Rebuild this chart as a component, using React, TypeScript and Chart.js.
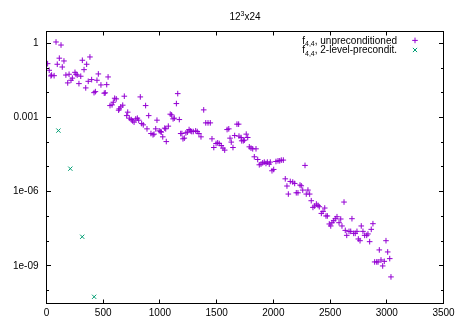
import React, { useEffect, useRef } from 'react';
import { Chart, registerables } from 'chart.js';

Chart.register(...registerables);

// f_{4,4}, unpreconditioned
const unpreX = [
  84, 128, 10, 24, 45, 67, 39, 113, 95, 154, 139, 171, 199, 187, 216, 228, 251, 260, 271, 286,
  302, 316, 331, 354, 383, 346, 368, 398, 419, 431, 445, 457, 480, 509, 518, 531, 543, 560, 578, 589,
  601, 615, 636, 641, 655, 672, 686, 707, 716, 730, 747, 759, 772, 787, 801, 813, 827, 839, 853, 874,
  886, 901, 921, 939, 948, 963, 974, 994, 1007, 1012, 1025, 1042, 1051, 1056, 1074, 1091, 1103, 1116, 1127, 1145,
  1157, 1171, 1183, 1194, 1203, 1215, 1229, 1242, 1257, 1268, 1280, 1294, 1315, 1329, 1344, 1362, 1386, 1404, 1424, 1444,
  1459, 1475, 1495, 1509, 1523, 1541, 1556, 1571, 1592, 1607, 1618, 1629, 1644, 1659, 1679, 1694, 1697, 1715, 1721, 1735,
  1744, 1761, 1774, 1788, 1803, 1818, 1847, 1832, 1862, 1876, 1891, 1906, 1920, 1935, 1947, 1964, 1973, 1988, 2003, 2023,
  2041, 2056, 2070, 2088, 2279, 2105, 2120, 2132, 2149, 2171, 2188, 2202, 2217, 2235, 2246, 2259, 2290, 2305, 2320, 2334,
  2349, 2364, 2379, 2394, 2405, 2423, 2438, 2453, 2464, 2476, 2493, 2506, 2517, 2532, 2546, 2561, 2579, 2594, 2605, 2623,
  2634, 2647, 2667, 2682, 2693, 2708, 2722, 2737, 2749, 2764, 2775, 2790, 2805, 2823, 2834, 2849, 2863, 2878, 2893, 2911,
  2923, 2934, 2949, 2964, 2978, 2993, 3008, 3026, 3037,
];
const unpreY = [
  1.13, 0.85, 0.15, 0.081, 0.052, 0.049, 0.048, 0.25, 0.142, 0.193, 0.11, 0.052, 0.056, 0.025, 0.032, 0.039, 0.067, 0.056, 0.052, 0.0234,
  0.0466, 0.206, 0.086, 0.142, 0.28, 0.0157, 0.029, 0.034, 0.0101, 0.0111, 0.032, 0.0577, 0.0207, 0.0096, 0.0099, 0.0213, 0.0436, 0.00303, 0.00323, 0.00415,
  0.006, 0.00564, 0.00197, 0.00223, 0.00268, 0.00314, 0.00725, 0.00119, 0.00164, 0.000938, 0.000824, 0.00073, 0.000647, 0.000879, 0.000938, 0.000778, 0.00679, 0.000568, 0.000503, 0.00303,
  0.000347, 0.00119, 0.000224, 0.000199, 0.000212, 0.000347, 0.000778, 0.000288, 0.00027, 0.000255, 0.000165, 0.00037, 0.000347, 0.000106, 0.000446, 0.00136, 0.00127, 0.000879, 0.000938, 0.00365,
  0.00923, 0.000824, 0.000224, 0.000224, 0.000137, 0.000146, 0.000239, 0.000255, 0.000325, 0.000288, 0.00027, 0.00027, 0.000288, 0.00027, 0.000224, 0.000165, 0.00203, 0.000605, 0.000605, 0.000605,
  0.000137, 6.1e-5, 8.85e-5, 9.4e-5, 8.85e-5, 7.35e-5, 5.77e-5, 4.79e-5, 0.000325, 0.000347, 0.000146, 0.000101, 6.1e-5, 0.000186, 0.000537, 0.000537, 0.000176, 0.000155, 0.000114, 0.000114,
  0.000121, 0.000212, 0.000155, 6.5e-5, 5.77e-5, 5.4e-5, 5.4e-5, 2.57e-5, 2.0e-5, 1.22e-5, 1.3e-5, 1.47e-5, 1.57e-5, 1.38e-5, 1.57e-5, 1.3e-5, 1.57e-5, 7.0e-6, 7.9e-6, 1.66e-5,
  1.77e-5, 1.77e-5, 1.89e-5, 1.89e-5, 1.15e-5, 3.3e-6, 1.69e-6, 8.0e-7, 2.59e-6, 2.45e-6, 2.15e-6, 9.0e-7, 9.0e-7, 1.85e-6, 1.73e-6, 1.16e-6, 8.0e-7, 1.16e-6, 8.0e-7, 4.3e-7,
  2.31e-7, 2.62e-7, 3.16e-7, 2.78e-7, 2.46e-7, 1.32e-7, 1.59e-7, 2.18e-7, 1.04e-7, 1.04e-7, 4.93e-8, 4.1e-8, 5.56e-8, 6.7e-8, 8.07e-8, 9.7e-8, 5.56e-8, 7.85e-8, 4.1e-8, 3.8e-7,
  2.72e-8, 1.71e-8, 2.48e-8, 2.48e-8, 8.07e-8, 2.06e-8, 2.06e-8, 2.48e-8, 1.22e-8, 1.04e-8, 4.1e-8, 2.48e-8, 1.71e-8, 1.71e-8, 1.95e-8, 9.5e-9, 2.99e-8, 5.07e-8, 1.44e-9, 1.44e-9,
  1.44e-9, 4.4e-9, 1.73e-9, 9.9e-10, 1.52e-9, 1.04e-8, 3.65e-9, 1.96e-9, 3.57e-10,
];

// f_{4,4}, 2-level-precondit.
const preX = [105, 210, 315, 420];
const preY = [2.95e-4, 8.5e-6, 1.5e-8, 5.6e-11];

const xTickValues = [0, 500, 1000, 1500, 2000, 2500, 3000, 3500];
const yTickValues = [1e-9, 1e-6, 1e-3, 1];
const yTickLabels = ['1e-09', '1e-06', '0.001', '1'];
const yDecades = [1e-10, 1e-9, 1e-8, 1e-7, 1e-6, 1e-5, 1e-4, 1e-3, 1e-2, 1e-1, 1];

const titleParts = ['12', '3', 'x24'];
const seriesLabels = ['unpreconditioned', '2-level-precondit.'];
const seriesPrefix = 'f';
const seriesSub = '4,4';

const PURPLE = '#9400d3';
const GREEN = '#009e73';
const FONT = '"Liberation Sans", Arial, sans-serif';

const snap = (v: number) => Math.round(v - 0.5) + 0.5;

const decorPlugin = {
  id: 'gnuplotDecor',
  afterDraw(chart: any) {
    const { ctx, chartArea } = chart;
    const xs = chart.scales.x;
    const ys = chart.scales.y;
    const L = chartArea.left, R = chartArea.right, T = chartArea.top, B = chartArea.bottom;
    ctx.save();
    ctx.strokeStyle = '#000';
    ctx.lineWidth = 1;
    ctx.beginPath();
    // inward ticks x
    xTickValues.forEach((v) => {
      const px = snap(xs.getPixelForValue(v));
      ctx.moveTo(px, B);
      ctx.lineTo(px, B - 4);
      ctx.moveTo(px, T);
      ctx.lineTo(px, T + 4);
    });
    // inward ticks y
    yDecades.forEach((v) => {
      const py = snap(ys.getPixelForValue(v));
      const len = yTickValues.includes(v) ? 4.5 : 2.5;
      ctx.moveTo(L, py);
      ctx.lineTo(L + len, py);
      ctx.moveTo(R, py);
      ctx.lineTo(R - len, py);
    });
    ctx.stroke();
    ctx.strokeRect(L, T, R - L, B - T);

    // title
    ctx.fillStyle = '#000';
    ctx.textBaseline = 'alphabetic';
    ctx.textAlign = 'left';
    const big = `10px ${FONT}`;
    const small = `7px ${FONT}`;
    ctx.font = big;
    const w0 = ctx.measureText(titleParts[0]).width;
    const w2 = ctx.measureText(titleParts[2]).width;
    ctx.font = small;
    const w1 = ctx.measureText(titleParts[1]).width;
    const tw = w0 + w1 + w2;
    let tx = (L + R) / 2 - tw / 2;
    const tBase = 20;
    ctx.font = big;
    ctx.fillText(titleParts[0], tx, tBase);
    tx += w0;
    ctx.font = small;
    ctx.fillText(titleParts[1], tx, tBase - 4.5);
    tx += w1;
    ctx.font = big;
    ctx.fillText(titleParts[2], tx, tBase);

    // legend
    const textRight = 397;
    const markerX = 415;
    const bases = [43.7, 53.3];
    seriesLabels.forEach((lab, i) => {
      const rest = ', ' + lab;
      ctx.font = big;
      const wf = ctx.measureText(seriesPrefix).width;
      const wr = ctx.measureText(rest).width;
      ctx.font = small;
      const ws = ctx.measureText(seriesSub).width;
      let x = textRight - (wf + ws + wr);
      const by = bases[i];
      ctx.font = big;
      ctx.fillText(seriesPrefix, x, by);
      x += wf;
      ctx.font = small;
      ctx.fillText(seriesSub, x, by + 2.5);
      x += ws;
      ctx.font = big;
      ctx.fillText(rest, x, by);
      const my = by - 3.3;
      ctx.beginPath();
      if (i === 0) {
        ctx.strokeStyle = PURPLE;
        ctx.moveTo(markerX - 2.8, my);
        ctx.lineTo(markerX + 2.8, my);
        ctx.moveTo(markerX, my - 2.8);
        ctx.lineTo(markerX, my + 2.8);
      } else {
        ctx.strokeStyle = GREEN;
        const d = 2.1;
        ctx.moveTo(markerX - d, my - d);
        ctx.lineTo(markerX + d, my + d);
        ctx.moveTo(markerX - d, my + d);
        ctx.lineTo(markerX + d, my - d);
      }
      ctx.stroke();
    });
    ctx.restore();
  },
};

export default function App() {
  const ref = useRef<HTMLCanvasElement | null>(null);
  useEffect(() => {
    if (!ref.current) return;
    const chart = new Chart(ref.current, {
      type: 'scatter',
      data: {
        datasets: [
          {
            label: seriesLabels[0],
            data: unpreX.map((x, i) => ({ x, y: unpreY[i] })),
            pointStyle: 'cross',
            pointRadius: 2.8,
            borderColor: PURPLE,
            backgroundColor: PURPLE,
            borderWidth: 1,
          },
          {
            label: seriesLabels[1],
            data: preX.map((x, i) => ({ x, y: preY[i] })),
            pointStyle: 'crossRot',
            pointRadius: 3,
            borderColor: GREEN,
            backgroundColor: GREEN,
            borderWidth: 1,
          },
        ],
      },
      options: {
        animation: false,
        responsive: false,
        events: [],
        layout: { padding: { top: 31.5, right: 19.5, left: 0, bottom: 0 } },
        plugins: {
          legend: { display: false },
          title: { display: false },
          tooltip: { enabled: false },
        },
        scales: {
          x: {
            type: 'linear',
            min: 0,
            max: 3500,
            afterBuildTicks: (s: any) => {
              s.ticks = xTickValues.map((v) => ({ value: v }));
            },
            afterFit: (s: any) => {
              s.height = 20.5;
            },
            ticks: {
              color: '#000',
              font: { family: FONT, size: 10 },
              padding: 4,
              maxRotation: 0,
              autoSkip: false,
              callback: (v: any) => String(v),
            },
            grid: { display: false, drawTicks: false },
            border: { display: false },
          },
          y: {
            type: 'logarithmic',
            min: 3e-11,
            max: 3,
            afterBuildTicks: (s: any) => {
              s.ticks = yTickValues.map((v) => ({ value: v }));
            },
            afterFit: (s: any) => {
              s.width = 46.5;
            },
            ticks: {
              color: '#000',
              font: { family: FONT, size: 10 },
              padding: 8,
              autoSkip: false,
              callback: (_v: any, i: number) => yTickLabels[i],
            },
            grid: { display: false, drawTicks: false },
            border: { display: false },
          },
        },
      },
      plugins: [decorPlugin],
    } as any);
    return () => chart.destroy();
  }, []);
  return (
    <div style={{ position: 'fixed', left: 0, top: 0, width: 463, height: 324, background: '#fff' }}>
      <canvas ref={ref} width={463} height={324} />
    </div>
  );
}
